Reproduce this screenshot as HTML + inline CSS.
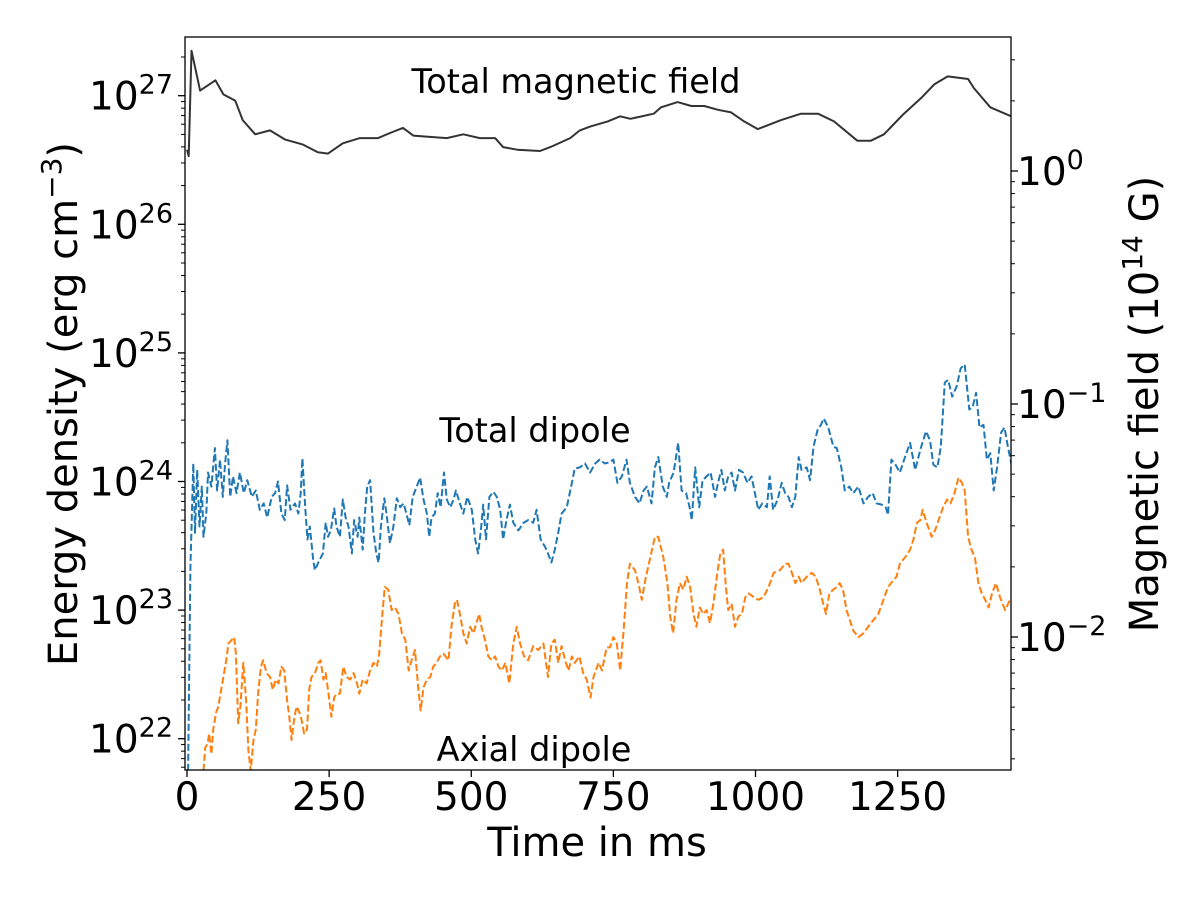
<!DOCTYPE html>
<html><head><meta charset="utf-8"><title>Energy density and magnetic field over time</title>
<style>
html,body{margin:0;padding:0;background:#fff;}
svg{display:block;font-family:"DejaVu Sans","Liberation Sans",sans-serif;}
</style></head>
<body>
<svg id="chart" width="1200" height="900" viewBox="0 0 1200 900" xmlns="http://www.w3.org/2000/svg">
<rect x="0" y="0" width="1200" height="900" fill="#fff"/>
<g id="series"></g>
<g id="axes"></g>
<text x="576" y="93" font-size="33.5" text-anchor="middle">Total magnetic field</text>
<text x="535" y="442" font-size="33.5" text-anchor="middle">Total dipole</text>
<text x="534" y="761" font-size="33.5" text-anchor="middle">Axial dipole</text>
<text x="597" y="856" font-size="40" text-anchor="middle">Time in ms</text>
<text transform="translate(77,404) rotate(-90)" font-size="40" text-anchor="middle">Energy density (erg cm<tspan font-size="28" dy="-16">−3</tspan><tspan dy="16">)</tspan></text>
<text transform="translate(1158,404) rotate(-90)" font-size="40" text-anchor="middle">Magnetic field (10<tspan font-size="28" dy="-16">14</tspan><tspan dy="16"> G)</tspan></text>
</svg>
<script>
// ---- data (log10 of energy density in erg cm^-3) ----
const totalT = [0,3,8,23,50,64,85,98,120,146,172,204,230,248,274,304,336,357,380,398,427,457,486,515,542,556,581,621,639,674,691,709,740,762,780,821,834,863,887,910,934,957,980,1004,1045,1080,1110,1138,1179,1203,1226,1261,1291,1315,1338,1374,1384,1413,1450];
const totalL = [26.58,26.53,27.35,27.04,27.12,27.01,26.96,26.81,26.70,26.73,26.66,26.62,26.56,26.55,26.63,26.67,26.67,26.71,26.75,26.69,26.68,26.67,26.70,26.67,26.67,26.60,26.58,26.57,26.60,26.67,26.73,26.76,26.80,26.84,26.82,26.86,26.91,26.95,26.92,26.92,26.89,26.87,26.80,26.74,26.81,26.86,26.86,26.80,26.65,26.65,26.70,26.86,26.98,27.09,27.15,27.13,27.06,26.91,26.84];

const dipT = [2,6,11,14,18,22,26,29,34,37,43,49,53,58,63,67,71,76,81,87,93,100,106,114,121,128,135,141,149,155,160,166,172,176,182,190,196,200,203,208,212,216,222,225,231,239,244,248,253,259,263,269,274,279,284,290,294,300,303,309,313,317,322,328,333,337,341,347,351,357,363,369,375,381,386,391,397,404,410,416,422,426,430,436,441,446,452,457,463,469,473,480,486,493,501,507,512,517,521,526,532,539,545,551,556,562,568,574,583,592,600,609,615,622,630,635,641,647,653,659,668,677,682,691,700,709,718,726,735,744,750,757,765,773,779,788,796,803,809,817,823,829,837,844,848,856,864,870,878,884,888,894,901,907,914,921,929,934,940,946,952,958,964,971,978,986,993,999,1005,1012,1020,1025,1031,1039,1046,1052,1058,1064,1070,1076,1081,1090,1096,1102,1109,1115,1120,1128,1137,1143,1151,1157,1165,1172,1181,1190,1198,1206,1213,1222,1229,1233,1239,1245,1254,1263,1272,1281,1290,1300,1307,1313,1320,1326,1333,1339,1346,1354,1361,1368,1376,1382,1388,1394,1401,1407,1413,1419,1425,1432,1438,1444,1450];
const dipL = [21.75,23.33,24.14,23.60,24.09,23.65,23.96,23.57,23.75,24.07,23.96,24.26,23.93,24.17,23.88,24.14,24.32,23.88,24.04,23.91,24.07,23.91,24.01,23.88,23.93,23.78,23.83,23.72,23.88,23.91,24.00,23.75,23.70,23.97,23.78,23.83,23.75,23.91,24.18,23.80,23.55,23.65,23.39,23.31,23.37,23.44,23.68,23.57,23.62,23.79,23.65,23.57,23.86,23.72,23.65,23.44,23.70,23.57,23.72,23.47,23.75,23.96,24.01,23.60,23.44,23.37,23.65,23.87,23.75,23.52,23.65,23.87,23.80,23.83,23.75,23.66,23.88,23.96,24.03,23.86,23.75,23.57,23.72,23.75,23.91,23.80,24.07,23.86,23.80,23.86,23.93,23.83,23.75,23.88,23.78,23.55,23.44,23.62,23.82,23.55,23.88,23.92,23.88,23.78,23.55,23.70,23.82,23.68,23.62,23.68,23.70,23.68,23.78,23.55,23.49,23.44,23.37,23.47,23.60,23.75,23.80,23.99,24.10,24.11,24.14,24.07,24.14,24.17,24.14,24.15,24.17,23.99,24.04,24.17,23.99,23.88,23.83,23.93,23.96,23.83,24.11,24.19,23.96,23.88,23.99,24.07,24.30,23.93,23.91,23.80,23.70,24.11,23.80,24.01,24.04,24.07,23.88,23.99,24.09,23.93,24.04,24.07,23.93,24.09,24.07,23.99,24.04,23.91,23.78,23.83,23.80,24.04,23.78,23.86,23.99,23.91,23.88,23.80,23.88,24.19,24.09,24.11,24.01,24.27,24.40,24.44,24.49,24.42,24.27,24.26,24.11,23.93,23.96,23.91,23.96,23.83,23.88,23.91,23.83,23.82,23.80,23.74,24.17,24.14,24.07,24.19,24.30,24.09,24.25,24.39,24.32,24.13,24.11,24.27,24.77,24.79,24.66,24.74,24.88,24.91,24.56,24.58,24.69,24.42,24.44,24.17,24.22,23.93,24.11,24.38,24.42,24.27,24.14];

const axT = [29,32,36,39,43,46,51,55,59,64,69,73,79,83,86,90,94,99,104,108,112,117,121,125,130,134,140,146,151,156,161,166,171,176,180,184,189,193,198,202,206,211,215,219,225,231,235,240,244,248,254,259,263,269,275,281,287,293,299,303,309,316,322,328,334,338,343,348,354,360,366,372,378,384,390,395,401,407,411,416,422,428,433,439,445,451,460,465,471,475,480,486,492,498,504,509,514,518,524,530,536,542,548,554,560,567,574,580,586,593,600,609,618,627,635,641,647,653,659,665,671,677,682,690,697,703,710,715,724,730,738,744,750,756,762,768,774,779,788,794,800,806,815,823,829,838,845,850,855,861,867,873,879,885,891,896,902,908,914,920,926,932,938,943,948,952,958,964,970,976,982,988,997,1005,1014,1023,1032,1043,1052,1058,1064,1070,1076,1081,1090,1099,1106,1113,1119,1124,1130,1137,1143,1148,1154,1160,1166,1172,1181,1190,1198,1207,1216,1225,1233,1242,1248,1254,1263,1272,1278,1284,1290,1294,1301,1310,1316,1322,1330,1337,1343,1350,1357,1363,1368,1374,1380,1386,1392,1398,1404,1410,1416,1423,1430,1439,1450];
const axL = [21.75,21.93,21.96,22.04,21.88,22.07,22.20,22.25,22.35,22.48,22.61,22.74,22.77,22.79,22.66,22.12,22.25,22.59,22.30,21.91,21.75,21.99,22.07,22.35,22.56,22.61,22.51,22.48,22.38,22.46,22.43,22.56,22.53,22.30,22.17,21.99,22.17,22.25,22.20,22.14,22.04,22.07,22.38,22.48,22.51,22.59,22.61,22.46,22.51,22.38,22.17,22.32,22.35,22.35,22.56,22.48,22.46,22.51,22.43,22.35,22.46,22.43,22.53,22.59,22.56,22.66,22.94,23.18,23.16,23.00,23.02,22.97,22.82,22.77,22.53,22.61,22.69,22.38,22.22,22.40,22.46,22.48,22.56,22.59,22.64,22.66,22.61,22.87,23.05,23.08,22.97,22.82,22.74,22.87,22.82,22.90,22.97,22.87,22.77,22.64,22.61,22.64,22.56,22.53,22.59,22.43,22.74,22.87,22.74,22.64,22.61,22.72,22.69,22.74,22.48,22.74,22.77,22.59,22.72,22.61,22.53,22.64,22.59,22.64,22.51,22.46,22.32,22.48,22.59,22.53,22.71,22.71,22.79,22.74,22.53,22.84,23.21,23.36,23.31,23.21,23.08,23.23,23.41,23.57,23.57,23.41,23.21,22.95,22.82,23.08,23.21,23.16,23.26,23.18,22.97,22.87,23.02,22.97,23.00,22.90,23.05,23.26,23.44,23.47,23.18,23.00,23.05,22.87,22.95,22.97,23.10,23.13,23.10,23.08,23.10,23.18,23.29,23.31,23.36,23.36,23.29,23.21,23.26,23.21,23.26,23.29,23.26,23.16,23.05,22.97,23.13,23.16,23.18,23.21,23.16,23.00,22.92,22.84,22.79,22.82,22.87,22.92,22.97,23.08,23.18,23.23,23.26,23.36,23.41,23.47,23.55,23.68,23.70,23.78,23.68,23.57,23.62,23.70,23.80,23.86,23.83,23.91,24.03,23.99,23.93,23.57,23.47,23.41,23.21,23.13,23.08,23.02,23.13,23.21,23.10,23.00,23.10];

const xTicks = [0,250,500,750,1000,1250];
const leftDecades = [22,23,24,25,26,27];
const rightDecades = [-2,-1,0];

// ---- axes functions ----
const PL=185, PR=1011, PT=37, PB=770;
const X0=187, XS=0.5685;         // px per ms
const Y24=481.5, DEC=128.6;       // left decade px
const R0=171, RDEC=233;           // right axis: 10^0 at 171, decade px
const xs = t => X0 + t*XS;
const ys = L => Y24 - (L-24)*DEC;
const yr = l => R0 - l*RDEC;
const NS='http://www.w3.org/2000/svg';
const series=document.getElementById('series');
const axes=document.getElementById('axes');
function mk(tag, attrs, parent){const e=document.createElementNS(NS,tag);for(const k in attrs)e.setAttribute(k,attrs[k]);parent.appendChild(e);return e;}

const defs=mk('defs',{},series);
const cp=mk('clipPath',{id:'plotclip'},defs);
mk('rect',{x:PL,y:PT,width:PR-PL,height:PB-PT},cp);
const g=mk('g',{'clip-path':'url(#plotclip)'},series);

function line(T,L,color,dash,name){
  const d=T.map((t,i)=>(i?'L':'M')+xs(t).toFixed(1)+' '+ys(L[i]).toFixed(1)).join(' ');
  const p=mk('path',{d:d,fill:'none',stroke:color,'stroke-width':2,'stroke-linejoin':'round'},g);
  if(dash)p.setAttribute('stroke-dasharray',dash);
  
  
}
line(axT,axL,'#ff7f0e','7,3','axial-dipole-line');
line(dipT,dipL,'#1f77b4','7,3','total-dipole-line');
line(totalT,totalL,'#333333',null,'total-magnetic-field-line');

const fr=mk('rect',{x:PL,y:PT,width:PR-PL,height:PB-PT,fill:'none',stroke:'#000','stroke-width':1.3},axes);



xTicks.forEach(t=>{
  const x=xs(t);
  const tk=mk('line',{x1:x,x2:x,y1:PB,y2:PB+7,stroke:'#000','stroke-width':1.3},axes);
  
  
  const tx=mk('text',{x:x,y:PB+40,'font-size':39,'text-anchor':'middle'},axes);
  tx.textContent=String(t);
  
  
});

function supLabel(x,y,exp,anchor,name){
  const tx=mk('text',{x:x,y:y,'font-size':39,'text-anchor':anchor},axes);
  const a=mk('tspan',{},tx);a.textContent='10';
  const b=mk('tspan',{'font-size':27,dy:-16},tx);b.textContent=exp;
  
  
}
leftDecades.forEach(L=>{
  const y=ys(L);
  if(y>=PT-0.5&&y<=PB+0.5){
    const tk=mk('line',{x1:PL-7,x2:PL,y1:y,y2:y,stroke:'#000','stroke-width':1.3},axes);
    
    
    supLabel(173,y+14,String(L),'end','left-tick-label');
  }
});
for(let L=21;L<=27;L++){for(let m=2;m<=9;m++){
  const y=ys(L+Math.log10(m));
  if(y>=PT&&y<=PB){
    const tk=mk('line',{x1:PL-4,x2:PL,y1:y,y2:y,stroke:'#000','stroke-width':1},axes);
    
    
  }
}}
rightDecades.forEach(l=>{
  const y=yr(l);
  const tk=mk('line',{x1:PR,x2:PR+7,y1:y,y2:y,stroke:'#000','stroke-width':1.3},axes);
  
  
  supLabel(1017,y+14,l<0?'−'+(-l):String(l),'start','right-tick-label');
});
for(let l=-3;l<=0;l++){for(let m=2;m<=9;m++){
  const y=yr(l+Math.log10(m));
  if(y>=PT&&y<=PB){
    const tk=mk('line',{x1:PR,x2:PR+4,y1:y,y2:y,stroke:'#000','stroke-width':1},axes);
    
    
  }
}}
</script>
</body></html>
